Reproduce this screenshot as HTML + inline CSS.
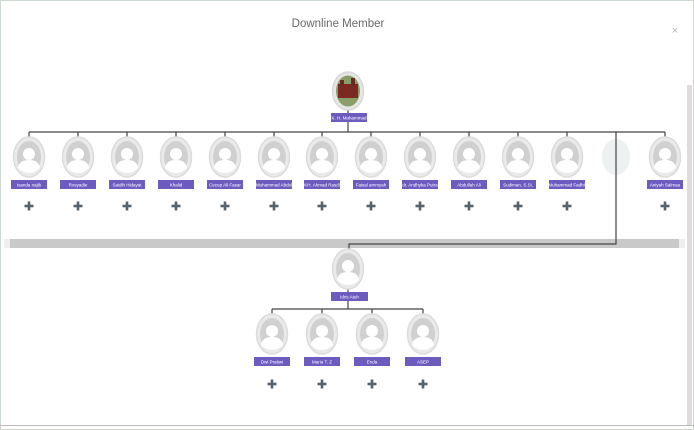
<!DOCTYPE html>
<html><head><meta charset="utf-8"><style>
html,body{margin:0;padding:0;background:#fff;}
svg{display:block;font-family:"Liberation Sans",sans-serif;}
.l{font-size:4.5px;fill:#fff;text-anchor:middle;}
</style></head><body>
<svg width="694" height="430" viewBox="0 0 694 430">
<defs>
<g id="p">
<ellipse cx="0" cy="0" rx="15.5" ry="20" fill="#eaeaea" stroke="#dcdcdc" stroke-width="1.5"/>
<ellipse cx="0" cy="0" rx="12" ry="16" fill="#d0d0d0"/>
<circle cx="0" cy="-3" r="6" fill="#fff"/>
<path d="M-11,11 Q-10,3 0,3 Q10,3 11,11 Q6,16 0,16 Q-6,16 -11,11Z" fill="#fff"/>
</g>
<g id="plus"><rect x="-4.5" y="-1.3" width="9" height="2.6" fill="#56636d"/><rect x="-1.3" y="-4.5" width="2.6" height="9" fill="#56636d"/></g>
</defs>
<rect x="0.5" y="0.5" width="693" height="429" fill="#fff" stroke="#cfd8d0"/>
<text x="338" y="27" font-size="11.5" fill="#6a6a6a" text-anchor="middle">Downline Member</text>
<text x="675" y="34" font-size="11" fill="#bbb" text-anchor="middle">×</text>
<rect x="687" y="85" width="5" height="340" fill="#ddd"/>
<line x1="0" y1="425.5" x2="694" y2="425.5" stroke="#bbb"/>
<rect x="10" y="239" width="669" height="9" fill="#c9c9c9"/>
<rect x="4" y="239" width="6" height="9" fill="#eee"/>
<rect x="679" y="239" width="6" height="9" fill="#eee"/>
<ellipse cx="616" cy="157" rx="14" ry="18" fill="#eef1f1"/>
<g stroke="#444" stroke-width="1.2" fill="none">
<line x1="348" y1="110" x2="348" y2="132"/>
<line x1="29" y1="132" x2="665" y2="132"/>
<path d="M29 132v5M78 132v5M127 132v5M176 132v5M225 132v5M274 132v5M322 132v5M371 132v5M420 132v5M469 132v5M518 132v5M567 132v5M665 132v5"/>
<path d="M616 132V244H349V250"/>
<line x1="348" y1="287" x2="348" y2="309"/>
<line x1="272" y1="309" x2="423" y2="309"/>
<path d="M272 309v5M322 309v5M372 309v5M423 309v5"/>
</g>
<!-- root -->
<ellipse cx="348" cy="91" rx="15.5" ry="19" fill="#e6e6e6" stroke="#d8d8d8" stroke-width="1.5"/>
<ellipse cx="348" cy="91" rx="12" ry="15.5" fill="#8a9e6a"/>
<rect x="338" y="84" width="20" height="14" fill="#7a2a22"/>
<rect x="340" y="80" width="4" height="6" fill="#6a2a22"/><rect x="351" y="78" width="4" height="8" fill="#6a2a22"/>
<rect x="331" y="113" width="36" height="9" fill="#6e5bc0"/><text class="l" x="349" y="119.5">K. H. Muhammad</text>
<use href="#p" x="348" y="269"/>
<rect x="331" y="292" width="37" height="9" fill="#6e5bc0"/><text class="l" x="349.5" y="298.5">Idris Atuh</text>
<!-- row1 -->
<use href="#p" x="29" y="157"/><use href="#p" x="78" y="157"/><use href="#p" x="127" y="157"/><use href="#p" x="176" y="157"/><use href="#p" x="225" y="157"/><use href="#p" x="274" y="157"/><use href="#p" x="322" y="157"/><use href="#p" x="371" y="157"/><use href="#p" x="420" y="157"/><use href="#p" x="469" y="157"/><use href="#p" x="518" y="157"/><use href="#p" x="567" y="157"/><use href="#p" x="665" y="157"/>
<g fill="#6e5bc0">
<rect x="11" y="180" width="36" height="9"/><rect x="60" y="180" width="36" height="9"/><rect x="109" y="180" width="36" height="9"/><rect x="158" y="180" width="36" height="9"/><rect x="207" y="180" width="36" height="9"/><rect x="256" y="180" width="36" height="9"/><rect x="304" y="180" width="36" height="9"/><rect x="353" y="180" width="36" height="9"/><rect x="402" y="180" width="36" height="9"/><rect x="451" y="180" width="36" height="9"/><rect x="500" y="180" width="36" height="9"/><rect x="549" y="180" width="36" height="9"/><rect x="647" y="180" width="36" height="9"/>
<rect x="254" y="357" width="36" height="9"/><rect x="304" y="357" width="36" height="9"/><rect x="354" y="357" width="36" height="9"/><rect x="405" y="357" width="36" height="9"/>
</g>
<text class="l" x="29" y="186.5">Isanda najib</text><text class="l" x="78" y="186.5">Rosyadie</text><text class="l" x="127" y="186.5">Saidih Hidayat</text><text class="l" x="176" y="186.5">Khalid</text><text class="l" x="225" y="186.5">Cecep Ali Fasar</text><text class="l" x="274" y="186.5">Muhammad Abdul</text><text class="l" x="322" y="186.5">KH. Ahmad Rasdi</text><text class="l" x="371" y="186.5">Faisal ammyah</text><text class="l" x="420" y="186.5">dr. Andhyka Putra</text><text class="l" x="469" y="186.5">Abdullah Ali</text><text class="l" x="518" y="186.5">Sudiman, S.Si,</text><text class="l" x="567" y="186.5">Muhammad Fadhil</text><text class="l" x="665" y="186.5">Aniyah Salmaa</text>
<g>
<use href="#plus" x="29" y="206"/><use href="#plus" x="78" y="206"/><use href="#plus" x="127" y="206"/><use href="#plus" x="176" y="206"/><use href="#plus" x="225" y="206"/><use href="#plus" x="274" y="206"/><use href="#plus" x="322" y="206"/><use href="#plus" x="371" y="206"/><use href="#plus" x="420" y="206"/><use href="#plus" x="469" y="206"/><use href="#plus" x="518" y="206"/><use href="#plus" x="567" y="206"/><use href="#plus" x="665" y="206"/>
</g>
<!-- row2 -->
<use href="#p" x="272" y="334"/><use href="#p" x="322" y="334"/><use href="#p" x="372" y="334"/><use href="#p" x="423" y="334"/>
<text class="l" x="272" y="363.5">Dwi Pratiwi</text><text class="l" x="322" y="363.5">Maria T. Z</text><text class="l" x="372" y="363.5">Enda</text><text class="l" x="423" y="363.5">ASEP</text>
<use href="#plus" x="272" y="384"/><use href="#plus" x="322" y="384"/><use href="#plus" x="372" y="384"/><use href="#plus" x="423" y="384"/>
</svg>
</body></html>
